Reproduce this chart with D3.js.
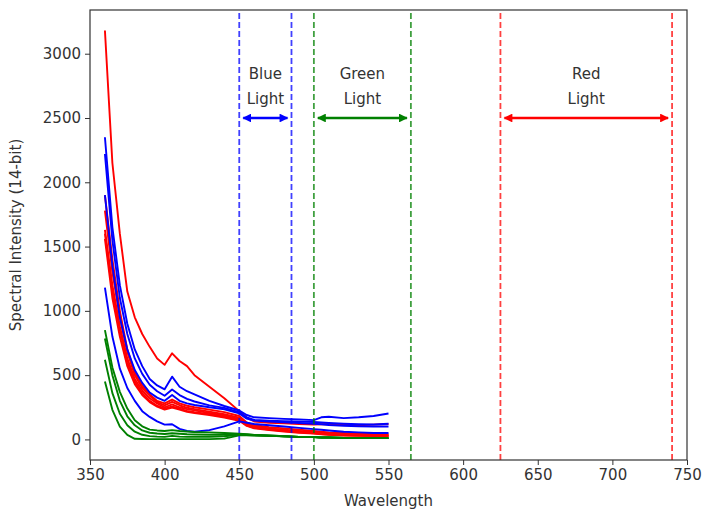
<!DOCTYPE html>
<html>
<head>
<meta charset="utf-8">
<script src="https://cdn.jsdelivr.net/npm/d3@7"></script>
<style>
  body { margin: 0; background: #fff; }
  text { font-family: "DejaVu Sans", sans-serif; }
</style>
</head>
<body>
<div id="chart"></div>
<script>
var width = 705,
    height = 512,
    margin = {top: 10, right: 18, bottom: 52, left: 90};

// wavelengths sampled for every spectrum
var wavelengths = [360,365,370,375,380,385,390,395,400,405,410,415,420,430,440,450,455,460,470,480,490,500,505,510,520,530,540,550];

var redSeries = [
  [3180,2150,1600,1150,950,820,720,630,580,670,610,570,500,410,320,220,170,140,130,125,120,115,118,120,115,110,115,120],
  [1900,1400,1000,700,520,420,350,300,280,310,280,262,250,232,212,182,132,112,96,86,76,66,60,55,50,45,42,40],
  [1780,1300,950,680,500,400,340,290,265,292,266,246,236,216,196,170,122,102,86,76,66,56,50,45,40,36,35,32],
  [1630,1200,880,630,470,380,320,280,250,272,250,236,226,206,186,160,116,96,80,70,60,50,45,40,35,32,30,30],
  [1600,1150,850,600,450,360,300,262,240,256,240,222,212,196,176,152,110,90,76,66,56,48,42,38,33,30,28,26],
  [1560,1100,800,570,430,345,290,255,232,248,232,215,205,190,170,145,105,86,72,62,52,45,40,36,31,28,26,24]
];

var blueSeries = [
  [2350,1650,1200,900,700,570,470,420,390,488,410,375,350,300,260,225,190,172,166,160,156,150,172,176,166,172,182,202],
  [2220,1550,1100,820,630,510,425,375,340,388,345,315,295,265,245,212,172,152,146,142,140,136,132,128,122,118,116,122],
  [1900,1350,950,700,540,440,365,325,300,345,300,280,268,250,235,202,162,146,140,134,128,122,118,112,106,102,100,100],
  [1180,800,550,400,300,220,175,140,115,118,82,66,60,72,102,140,130,120,110,100,90,80,75,70,60,55,50,50]
];

var greenSeries = [
  [850,560,370,240,150,102,76,70,66,72,66,62,58,55,50,45,40,35,30,25,20,18,15,15,12,12,10,10],
  [785,500,300,180,110,70,52,46,42,48,44,40,38,36,36,40,38,35,30,25,20,18,15,15,12,12,10,10],
  [620,360,200,110,60,36,26,22,20,28,22,20,20,20,25,36,35,32,28,25,20,18,15,15,12,12,10,10],
  [450,230,100,35,5,3,2,2,2,2,2,2,2,2,6,32,32,30,28,25,20,18,15,15,12,12,10,10]
];

// light bands
var bandNames = ["Blue", "Green", "Red"];
var bandStart = [450, 500, 625];
var bandEnd = [485, 565, 740];
var bandColors = ["#0000ff", "#008000", "#ff0000"];

var xTicks = [350,400,450,500,550,600,650,700,750];
var yTicks = [0,500,1000,1500,2000,2500,3000];

var x = d3.scaleLinear()
    .domain([350, 750])
    .range([margin.left, width - margin.right]);

var y = d3.scaleLinear()
    .domain([-160, 3340])
    .range([height - margin.bottom, margin.top]);

var svg = d3.select("#chart")
    .append("svg")
    .attr("width", width)
    .attr("height", height);

var defs = svg.append("defs");
bandColors.forEach(function(c, i){
  defs.append("marker")
      .attr("id", "head" + i)
      .attr("viewBox", "0 0 10 10")
      .attr("refX", 9)
      .attr("refY", 5)
      .attr("markerWidth", 3.6)
      .attr("markerHeight", 3.4)
      .attr("markerUnits", "strokeWidth")
      .attr("orient", "auto-start-reverse")
    .append("path")
      .attr("d", "M0,0 L10,5 L0,10 Z")
      .attr("fill", c);
});

var line = d3.line()
    .x(function(d, i){ return x(wavelengths[i]); })
    .y(function(d){ return y(d); });

function drawGroup(series, color){
  svg.append("g")
      .selectAll("path")
      .data(series)
      .enter()
      .append("path")
      .attr("d", line)
      .attr("fill", "none")
      .attr("stroke", color)
      .attr("stroke-width", 1.9)
      .attr("stroke-linejoin", "round");
}

drawGroup(redSeries, "#ff0000");
drawGroup(blueSeries, "#0000ff");
drawGroup(greenSeries, "#008000");

// dashed band edges, arrows and labels
var bands = svg.append("g");
bandNames.forEach(function(name, i){
  [bandStart[i], bandEnd[i]].forEach(function(w){
    bands.append("line")
        .attr("x1", x(w)).attr("x2", x(w))
        .attr("y1", y.range()[0]).attr("y2", y.range()[1])
        .attr("stroke", bandColors[i])
        .attr("stroke-opacity", 0.75)
        .attr("stroke-width", 1.8)
        .attr("stroke-dasharray", "6,3");
  });

  var pad = 4;
  bands.append("line")
      .attr("x1", x(bandStart[i]) + pad)
      .attr("x2", x(bandEnd[i]) - pad)
      .attr("y1", y(2500)).attr("y2", y(2500))
      .attr("stroke", bandColors[i])
      .attr("stroke-width", 2.6)
      .attr("marker-start", "url(#head" + i + ")")
      .attr("marker-end", "url(#head" + i + ")");

  var cx = x((bandStart[i] + bandEnd[i]) / 2);
  var t = bands.append("text")
      .attr("text-anchor", "middle")
      .attr("font-size", "15px")
      .attr("fill", "#333");
  t.append("tspan").attr("x", cx).attr("y", 79).text(name);
  t.append("tspan").attr("x", cx).attr("y", 104).text("Light");
});

// axes
var xAxis = svg.append("g")
    .attr("transform", "translate(0," + y.range()[0] + ")")
    .call(d3.axisBottom(x).tickValues(xTicks).tickFormat(d3.format("d")).tickSize(5).tickPadding(4));

var yAxis = svg.append("g")
    .attr("transform", "translate(" + margin.left + ",0)")
    .call(d3.axisLeft(y).tickValues(yTicks).tickFormat(d3.format("d")).tickSize(5).tickPadding(4));

[xAxis, yAxis].forEach(function(a){
  a.selectAll("text")
      .attr("font-family", "DejaVu Sans")
      .attr("font-size", "15px")
      .attr("fill", "#333");
  a.selectAll("line").attr("stroke", "#333");
  a.select(".domain").remove();
});

svg.append("rect")
    .attr("x", margin.left)
    .attr("y", margin.top)
    .attr("width", width - margin.right - margin.left)
    .attr("height", height - margin.bottom - margin.top)
    .attr("fill", "none")
    .attr("stroke", "#333")
    .attr("stroke-width", 1.2);

svg.append("text")
    .attr("x", (margin.left + width - margin.right) / 2)
    .attr("y", 506)
    .attr("text-anchor", "middle")
    .attr("font-size", "15px")
    .attr("fill", "#333")
    .text("Wavelength");

svg.append("text")
    .attr("transform", "translate(21," + ((margin.top + height - margin.bottom) / 2) + ") rotate(-90)")
    .attr("text-anchor", "middle")
    .attr("font-size", "15px")
    .attr("fill", "#333")
    .text("Spectral Intensity (14-bit)");
</script>
</body>
</html>
